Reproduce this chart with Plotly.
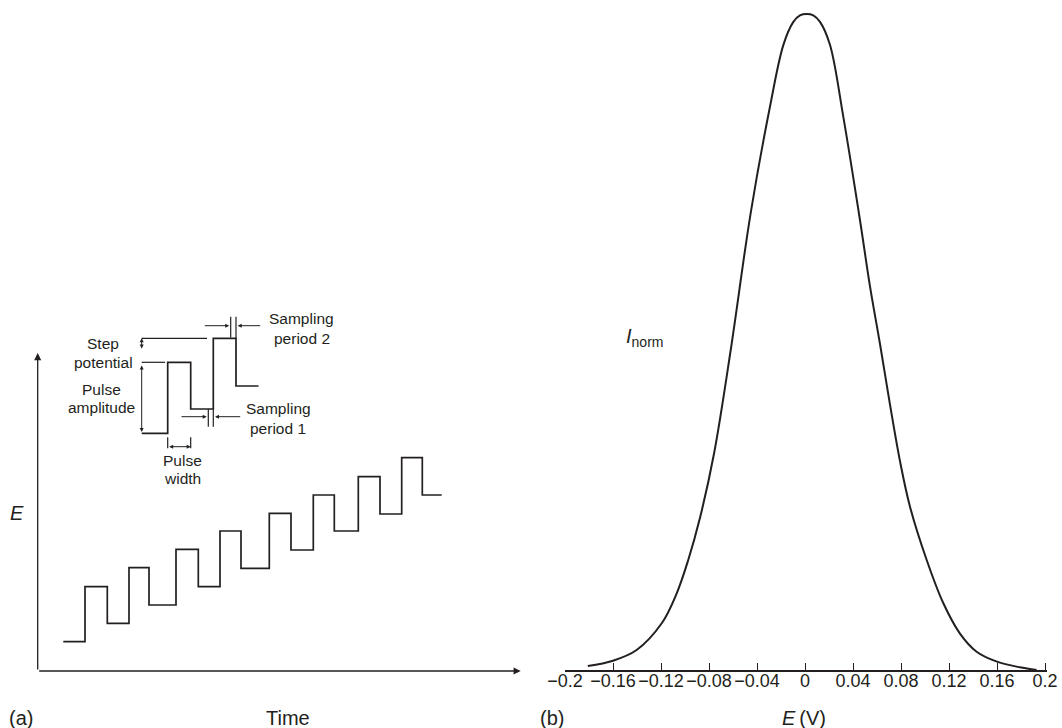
import plotly.graph_objects as go

W, H = 1062, 728
FONT = "Liberation Sans, Arial, sans-serif"
INK = "#231f20"

# ---------------- Panel (a): differential pulse waveform ----------------
# time edges (arbitrary units) and potential levels (arbitrary units)
wave_t = [25.6, 47.3, 69.6, 91.3, 111.3, 138.3, 160.6, 182.3, 203.3, 231.6,
          253.3, 275.6, 296.6, 320.6, 342.3, 364.0, 384.6, 404.0]
wave_E = [29.3, 84.3, 47.7, 103.3, 66.0, 121.7, 84.3, 140.0, 102.7, 157.7,
          121.0, 176.0, 140.0, 194.3, 157.0, 213.3, 176.0, 176.0]

# enlarged detail of two pulses
inset_t = [104.0, 130.0, 153.0, 175.6, 198.3, 220.8]
inset_E = [237.7, 308.7, 262.0, 332.7, 285.0, 285.0]

# ---------------- Panel (b): normalised peak ----------------
peak_E = [-0.181, -0.16, -0.1403, -0.1194, -0.1069, -0.0973, -0.0875, -0.0758,
          -0.0619, -0.0453, -0.0292, -0.018, -0.0097, -0.0042, 0.0014, 0.0069,
          0.0125, 0.0208, 0.0319, 0.0458, 0.0542, 0.0625, 0.0708, 0.0792,
          0.0875, 0.1014, 0.1153, 0.129, 0.143, 0.16, 0.179, 0.193]
peak_I = [0.0061, 0.0142, 0.0305, 0.0712, 0.1169, 0.1677, 0.232, 0.33,
          0.4878, 0.6962, 0.8587, 0.953, 0.988, 0.998, 1.0, 0.998,
          0.988, 0.953, 0.8435, 0.686, 0.5843, 0.497, 0.405, 0.318,
          0.2489, 0.1677, 0.1017, 0.0559, 0.0279, 0.0127, 0.0041, 0.0]

tick_vals = [-0.2, -0.16, -0.12, -0.08, -0.04, 0, 0.04, 0.08, 0.12, 0.16, 0.2]
tick_text = ["\u22120.2", "\u22120.16", "\u22120.12", "\u22120.08", "\u22120.04",
             "0", "0.04", "0.08", "0.12", "0.16", "0.2"]

# ---------------- geometry helpers ----------------
ORIG_X, ORIG_Y = 37.7, 671.0   # pixel position of panel (a) origin


def px(x):
    return x / W


def py(y):
    return 1 - y / H


fig = go.Figure()

# Panel (a) traces
fig.add_trace(go.Scatter(x=wave_t, y=wave_E, mode="lines", line_shape="hv",
                         line=dict(color=INK, width=1.7), xaxis="x", yaxis="y",
                         hoverinfo="skip", showlegend=False))
fig.add_trace(go.Scatter(x=inset_t, y=inset_E, mode="lines", line_shape="hv",
                         line=dict(color=INK, width=1.7), xaxis="x", yaxis="y",
                         hoverinfo="skip", showlegend=False))

# reference / dimension lines of the detail
seg_lines = [
    ([104.0, 169.3], [332.7, 332.7]),     # top reference
    ([104.0, 127.3], [308.7, 308.7]),     # mid reference
    ([193.0, 193.0], [333.5, 354.3]),     # sampling 2 left
    ([198.3, 198.3], [332.7, 354.3]),     # sampling 2 right
    ([170.6, 170.6], [262.0, 244.3]),     # sampling 1 left
    ([175.6, 175.6], [262.0, 244.3]),     # sampling 1 right
    ([130.0, 130.0], [233.7, 222.7]),     # pulse width left
    ([153.0, 153.0], [233.7, 222.7]),     # pulse width right
]
for xs, ys in seg_lines:
    fig.add_trace(go.Scatter(x=xs, y=ys, mode="lines",
                             line=dict(color=INK, width=1.2), xaxis="x", yaxis="y",
                             hoverinfo="skip", showlegend=False))

# Panel (b) trace
fig.add_trace(go.Scatter(x=peak_E, y=peak_I, mode="lines",
                         line=dict(color=INK, width=2.0, shape="spline", smoothing=1.0),
                         xaxis="x2", yaxis="y2", hoverinfo="skip", showlegend=False))

ann = []


def arrow(x0, y0, x1, y1, both=False, size=0.9, width=1.0, head=2):
    ann.append(dict(x=x1, y=y1, ax=x0, ay=y0, xref="x", yref="y", axref="x", ayref="y",
                    text="", showarrow=True, arrowhead=head, startarrowhead=head,
                    arrowside="end+start" if both else "end",
                    arrowsize=size, startarrowsize=size, arrowwidth=width,
                    arrowcolor=INK, standoff=0, startstandoff=0))


# axes of panel (a) with arrow heads
arrow(0, 0, 0, ORIG_Y - 353.0, size=1.1, width=1.3)
arrow(0, 0, 520.7 - ORIG_X, 0, size=1.1, width=1.3)

# dimension arrows
arrow(104.0, 321.0, 104.0, 332.7, both=True, size=0.8)   # step potential
arrow(104.0, 307.0, 104.0, 239.0, both=True, size=0.8)   # pulse amplitude
arrow(130.0, 224.3, 153.0, 224.3, both=True, size=0.8)   # pulse width
arrow(165.6, 345.3, 191.5, 345.3, size=0.8)              # sampling 2 from left
arrow(224.0, 345.3, 200.0, 345.3, size=0.8)              # sampling 2 from right
arrow(142.3, 254.3, 169.0, 254.3, size=0.8)              # sampling 1 from left
arrow(204.0, 254.3, 177.3, 254.3, size=0.8)              # sampling 1 from right


def label(text, x, y, size=15.5, xanchor="center", yanchor="middle"):
    ann.append(dict(text=text, x=px(x), y=py(y), xref="paper", yref="paper",
                    showarrow=False, xanchor=xanchor, yanchor=yanchor,
                    font=dict(family=FONT, size=size, color=INK)))


label("Step", 103, 343.5)
label("potential", 103, 362)
label("Pulse", 101, 389)
label("amplitude", 101, 407)
label("Pulse", 182.5, 460)
label("width", 182.5, 478)
label("Sampling", 301, 318.5)
label("period 2", 301.5, 338)
label("Sampling", 278.3, 408.5)
label("period 1", 278.3, 428.3)
label("<i>E</i>", 16.7, 513, size=20)
label("(a)", 20.5, 718, size=20)
label("Time", 287.5, 718, size=20)
label("(b)", 552, 718, size=20)
label("<i>E</i>\u2009(V)", 804, 718, size=20)
label("<i>I</i><sub>norm</sub>", 624, 337, size=20, xanchor="left")

# ---------------- layout ----------------
# panel (a): 1 data unit = 1 pixel, origin at (ORIG_X, ORIG_Y)
xa_range = [-ORIG_X, 530 - ORIG_X]
ya_range = [ORIG_Y - H, ORIG_Y]

# panel (b): E -> pixel 805 + 1200*E ; I -> pixel 670 - 656*I
xb_range = [-0.2, 0.2015]
yb_range = [0.0, 1.02]
xb_dom = [px(805 + 1200 * xb_range[0]), px(805 + 1200 * xb_range[1])]
yb_dom = [py(670 - 656 * yb_range[0]), py(670 - 656 * yb_range[1])]

fig.update_layout(
    width=W, height=H, autosize=False,
    margin=dict(l=0, r=0, t=0, b=0, autoexpand=False),
    paper_bgcolor="white", plot_bgcolor="rgba(0,0,0,0)",
    font=dict(family=FONT, color=INK),
    showlegend=False,
    xaxis=dict(domain=[0, px(530)], range=xa_range, visible=False, fixedrange=True),
    yaxis=dict(domain=[0, 1], range=ya_range, visible=False, fixedrange=True),
    xaxis2=dict(domain=xb_dom, range=xb_range, anchor="y2",
                showline=True, linecolor=INK, linewidth=1.6,
                ticks="inside", ticklen=7, tickwidth=1.4, tickcolor=INK,
                tickvals=tick_vals, ticktext=tick_text, tickangle=0,
                ticklabelstandoff=-6,
                tickfont=dict(family=FONT, size=18, color=INK),
                showgrid=False, zeroline=False, fixedrange=True, automargin=False),
    yaxis2=dict(domain=yb_dom, range=yb_range, anchor="x2", visible=False,
                fixedrange=True),
    annotations=ann,
)

fig.write_html(
    "out.html",
    config={"displayModeBar": False, "responsive": False},
    post_script="document.body.style.margin='0';document.body.style.overflow='hidden';",
)
